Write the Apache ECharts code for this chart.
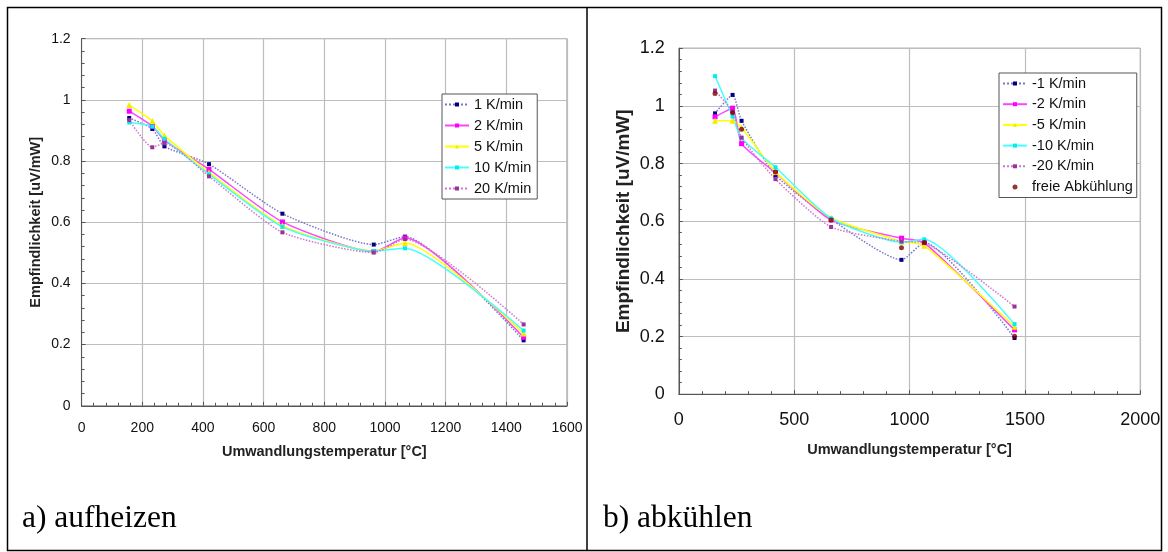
<!DOCTYPE html>
<html>
<head>
<meta charset="utf-8">
<script src="https://cdn.jsdelivr.net/npm/echarts@6/dist/echarts.min.js"></script>
<style>
  html, body { margin: 0; padding: 0; background: #fff; }
  #chart { width: 1168px; height: 552px; }
</style>
</head>
<body>
<div id="chart"></div>
<script>
// ---------- data (a) aufheizen ----------
const tempsHeat = [157, 233, 273, 420, 662, 963, 1066, 1457];
const heat1  = [0.941, 0.905, 0.848, 0.790, 0.628, 0.527, 0.553, 0.214];
const heat2  = [0.963, 0.914, 0.868, 0.773, 0.601, 0.504, 0.549, 0.224];
const heat5  = [0.983, 0.931, 0.883, 0.763, 0.589, 0.506, 0.532, 0.236];
const heat10 = [0.926, 0.913, 0.873, 0.757, 0.585, 0.506, 0.515, 0.246];
const heat20 = [0.934, 0.845, 0.858, 0.750, 0.567, 0.501, 0.545, 0.266];
const heatNames = ['1 K/min', '2 K/min', '5 K/min', '10 K/min', '20 K/min'];

// ---------- data (b) abkühlen ----------
const tempsCool = [157, 233, 272, 419, 660, 965, 1064, 1455];
const cool1    = [0.974, 1.038, 0.948, 0.760, 0.607, 0.466, 0.526, 0.195];
const cool2    = [0.962, 0.992, 0.869, 0.768, 0.604, 0.541, 0.525, 0.223];
const cool5    = [0.948, 0.948, 0.925, 0.771, 0.612, 0.530, 0.515, 0.234];
const cool10   = [1.103, 0.963, 0.888, 0.787, 0.610, 0.527, 0.537, 0.243];
const cool20   = [1.053, 0.980, 0.890, 0.746, 0.580, 0.530, 0.525, 0.304];
const coolFree = [1.043, 0.976, 0.919, 0.771, 0.604, 0.508, 0.526, 0.201];
const coolNames = ['-1 K/min', '-2 K/min', '-5 K/min', '-10 K/min', '-20 K/min', 'freie Abkühlung'];

// ---------- axis settings ----------
const yTicksMax = 1.2, yTicksStep = 0.2;
const xHeatMax = 1600, xHeatStep = 200;
const xCoolMax = 2000, xCoolStep = 500;

const captionA = 'a) aufheizen';
const captionB = 'b) abkühlen';
const xTitle = 'Umwandlungstemperatur [°C]';
const yTitle = 'Empfindlichkeit [uV/mW]';

const FONT = "'Liberation Sans', Arial, sans-serif";

function pts(xs, ys) { return xs.map((x, i) => [x, ys[i]]); }

const styles = [
  { line: '#7777cc', mark: '#000080', type: 'dotted', symbol: 'rect', size: 4, width: 1.5 },
  { line: '#ff44ff', mark: '#ff00ff', type: 'solid',  symbol: 'rect', size: 5, width: 1.5 },
  { line: '#ffff00', mark: '#eeee00', type: 'solid',  symbol: 'triangle', size: 6, width: 1.5 },
  { line: '#44ffff', mark: '#00eeee', type: 'solid',  symbol: 'rect', size: 4, width: 1.5 },
  { line: '#cc77cc', mark: '#993399', type: 'dotted', symbol: 'rect', size: 4, width: 1.5 }
];

function mkLine(name, xs, ys, st, axisIdx) {
  return {
    name: name, type: 'line', xAxisIndex: axisIdx, yAxisIndex: axisIdx,
    data: pts(xs, ys), smooth: 0.2,
    symbol: st.symbol, symbolSize: st.size, showSymbol: true,
    lineStyle: { color: st.line, type: st.type, width: st.width },
    itemStyle: { color: st.mark },
    emphasis: { disabled: true }, animation: false
  };
}

const heatSeries = [heat1, heat2, heat5, heat10, heat20].map((d, i) => mkLine(heatNames[i], tempsHeat, d, styles[i], 0));
const coolSeries = [cool1, cool2, cool5, cool10, cool20].map((d, i) => mkLine(coolNames[i], tempsCool, d, styles[i], 1));
coolSeries.push({
  name: coolNames[5], type: 'scatter', xAxisIndex: 1, yAxisIndex: 1,
  data: pts(tempsCool, coolFree), symbol: 'circle', symbolSize: 5,
  itemStyle: { color: '#800000' }, emphasis: { disabled: true }, animation: false, z: 5
});

function plainNum(v) { return String(Math.round(v * 100) / 100); }

function xAxis(gridIndex, max, step, fontSize, margin, nameGap, nameSize) {
  return {
    type: 'value', gridIndex: gridIndex, min: 0, max: max, interval: step,
    name: xTitle, nameLocation: 'middle', nameGap: nameGap,
    nameTextStyle: { fontFamily: FONT, fontWeight: 'bold', fontSize: nameSize, color: '#222' },
    axisLine: { show: true, lineStyle: { color: '#555', width: 1 } },
    axisTick: { show: true, inside: true, length: 4, lineStyle: { color: '#555' } },
    minorTick: { show: true, splitNumber: 5, length: 3, lineStyle: { color: '#555' } },
    axisLabel: { fontFamily: FONT, fontSize: fontSize, color: '#111', margin: margin, formatter: plainNum },
    splitLine: { show: true, lineStyle: { color: '#bdbdbd', width: 1.2 } }
  };
}
function yAxis(gridIndex, fontSize, margin, nameGap, nameSize) {
  return {
    type: 'value', gridIndex: gridIndex, min: 0, max: yTicksMax, interval: yTicksStep,
    name: yTitle, nameLocation: 'middle', nameGap: nameGap,
    nameTextStyle: { fontFamily: FONT, fontWeight: 'bold', fontSize: nameSize, color: '#222' },
    axisLine: { show: true, lineStyle: { color: '#555', width: 1 } },
    axisTick: { show: true, inside: true, length: 4, lineStyle: { color: '#555' } },
    minorTick: { show: true, splitNumber: 5, length: 3, lineStyle: { color: '#555' } },
    axisLabel: { fontFamily: FONT, fontSize: fontSize, color: '#111', margin: margin, formatter: plainNum },
    splitLine: { show: true, lineStyle: { color: '#bdbdbd', width: 1.2 } }
  };
}

const legendCommon = {
  orient: 'vertical', itemWidth: 24, itemHeight: 5, selectedMode: false,
  borderColor: '#555', borderWidth: 1, backgroundColor: '#fff',
  textStyle: { fontFamily: FONT, fontSize: 14.5, color: '#111', lineHeight: 14 }
};

const option = {
  backgroundColor: '#fff',
  animation: false,
  grid: [
    { left: 81.6, top: 38.7, width: 485.4, height: 367.1, show: true, borderColor: '#888', borderWidth: 1, backgroundColor: 'transparent' },
    { left: 678.8, top: 48.2, width: 461.5, height: 346, show: true, borderColor: '#888', borderWidth: 1, backgroundColor: 'transparent' }
  ],
  xAxis: [
    xAxis(0, xHeatMax, xHeatStep, 14, 15, 39, 14.5),
    xAxis(1, xCoolMax, xCoolStep, 18, 17, 48, 14.5)
  ],
  yAxis: [
    yAxis(0, 14, 11, 38, 14.5),
    yAxis(1, 18, 14, 46, 19)
  ],
  legend: [
    Object.assign({}, legendCommon, { data: heatNames, left: 442, top: 94, itemGap: 6, padding: [3, 6, 3, 2] }),
    Object.assign({}, legendCommon, { data: coolNames, left: 999, top: 73, itemGap: 5.7, padding: [3, 4, 3, 3] })
  ],
  series: heatSeries.concat(coolSeries),
  graphic: [
    { type: 'rect', shape: { x: 7.5, y: 7.5, width: 1154, height: 543 }, style: { fill: 'none', stroke: '#000', lineWidth: 1.5 }, silent: true, z: 100 },
    { type: 'line', shape: { x1: 587, y1: 7.5, x2: 587, y2: 551 }, style: { stroke: '#000', lineWidth: 1.5 }, silent: true, z: 100 },
    { type: 'text', left: 22, top: 503, style: { text: captionA, font: "31.5px 'Liberation Serif', 'Times New Roman', serif", fill: '#000' }, silent: true },
    { type: 'text', left: 603, top: 503, style: { text: captionB, font: "31.5px 'Liberation Serif', 'Times New Roman', serif", fill: '#000' }, silent: true }
  ]
};

const chart = echarts.init(document.getElementById('chart'), null, { renderer: 'canvas' });
chart.setOption(option);
</script>
</body>
</html>
